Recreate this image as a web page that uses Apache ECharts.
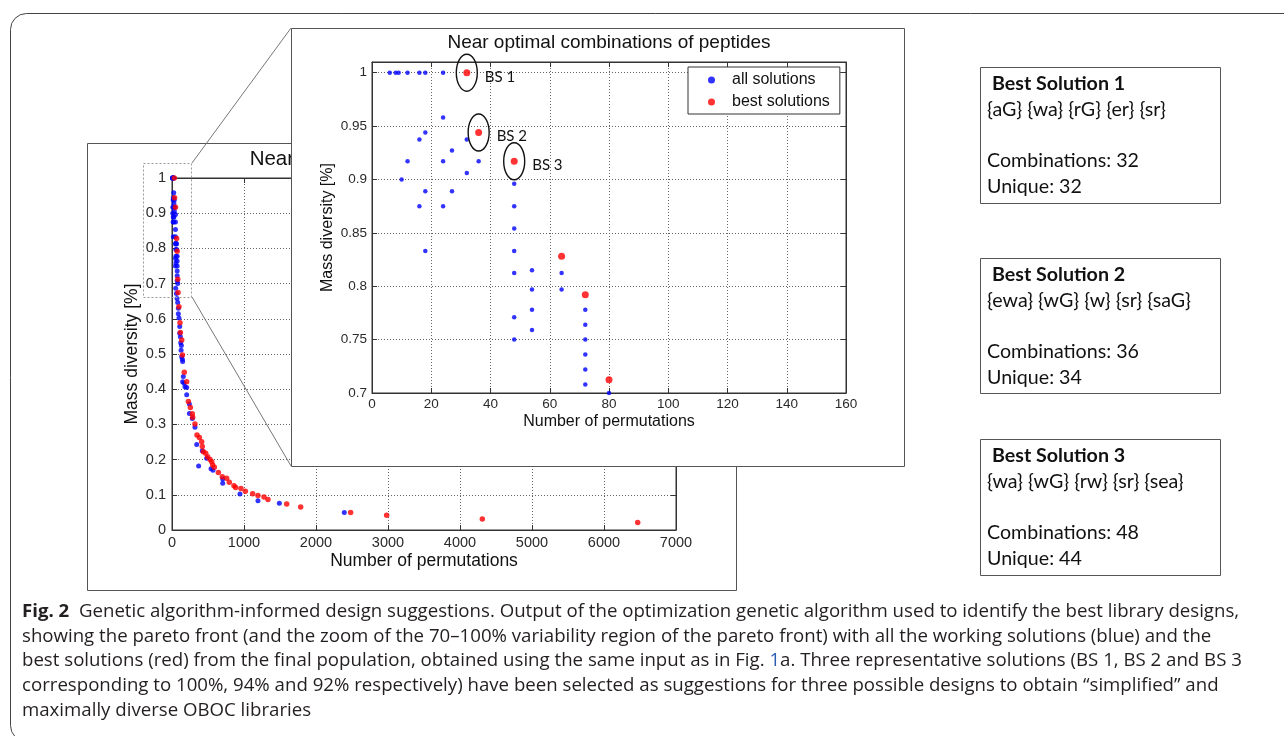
<!DOCTYPE html>
<html>
<head>
<meta charset="utf-8">
<title>Near optimal combinations of peptides</title>
<script src="https://cdn.jsdelivr.net/npm/echarts@6.0.0/dist/echarts.min.js"></script>
<style>
html,body{margin:0;padding:0;background:#fff;}
#chart{width:1284px;height:736px;}
</style>
</head>
<body>
<div id="chart"></div>
<script>
// ---------- data ----------
// [permutations, mass diversity]
const allSolutions = [
  [6,1],[8,1],[9,1],[12,1],[16,1],[18,1],[24,1],
  [24,0.958],[18,0.944],[16,0.9375],[32,0.9375],[27,0.927],
  [12,0.917],[24,0.917],[36,0.917],[32,0.906],[10,0.9],[48,0.896],
  [18,0.889],[27,0.889],[16,0.875],[24,0.875],[48,0.875],[48,0.854],
  [18,0.833],[48,0.833],[54,0.815],[48,0.8125],[64,0.8125],[54,0.797],
  [64,0.797],[54,0.778],[72,0.778],[48,0.771],[72,0.764],[54,0.759],
  [48,0.75],[72,0.75],[72,0.736],[72,0.722],[72,0.708],[80,0.70],
  [51,0.687],[61,0.672],[70,0.658],[79,0.646],[88,0.630],[88,0.614],
  [97,0.602],[107,0.578],[107,0.559],[116,0.549],[121,0.532],[130,0.524],
  [126,0.511],[134,0.492],[144,0.485],[148,0.479],[157,0.436],[148,0.421],
  [167,0.417],[181,0.407],[204,0.405],[204,0.384],[241,0.358],[241,0.331],
  [282,0.317],[319,0.292],[343,0.243],[370,0.182],[421,0.225],[482,0.204],
  [542,0.174],[569,0.170],[704,0.145],[704,0.133],[944,0.102],[1194,0.083],
  [1491,0.076],[2393,0.05]
];
const bestSolutions = [
  [32,1],[36,0.944],[48,0.917],[64,0.828],[72,0.792],[80,0.7125],
  [84,0.675],[97,0.634],[111,0.589],[116,0.561],[135,0.54],[145,0.497],
  [171,0.448],[204,0.421],[227,0.365],[255,0.348],[282,0.33],[287,0.32],
  [319,0.301],[347,0.27],[380,0.263],[412,0.251],[421,0.237],[435,0.222],
  [468,0.218],[495,0.208],[528,0.2],[551,0.194],[565,0.185],[588,0.178],
  [644,0.163],[699,0.151],[759,0.147],[796,0.136],[861,0.126],[884,0.121],
  [958,0.118],[1019,0.11],[1120,0.103],[1194,0.098],[1278,0.094],[1333,0.087],
  [1593,0.074],[1787,0.065],[2481,0.05],[2981,0.042],[4310,0.031],[6468,0.021]
];
const bsPoints = [[32,1],[36,0.944],[48,0.917]];
const bsLabels = ['BS 1', 'BS 2', 'BS 3'];

// axis ranges: [min, max, interval]
const mainXRange = [0, 7000, 1000];
const mainYRange = [0, 1, 0.1];
const insetXRange = [0, 160, 20];
const insetYRange = [0.7, 1.01, 0.05];

const chartTitle = 'Near optimal combinations of peptides';
const xName = 'Number of permutations';
const yName = 'Mass diversity [%]';
const seriesNames = ['all solutions', 'best solutions'];

const boxTitles = ['Best Solution 1', 'Best Solution 2', 'Best Solution 3'];
const boxSets = ['{aG} {wa} {rG} {er} {sr}', '{ewa} {wG} {w} {sr} {saG}', '{wa} {wG} {rw} {sr} {sea}'];
const boxCombinations = [32, 36, 48];
const boxUnique = [32, 34, 44];

const figLabel = 'Fig. 2';
const captionLines = [
  'Genetic algorithm-informed design suggestions. Output of the optimization genetic algorithm used to identify the best library designs,',
  'showing the pareto front (and the zoom of the 70\u2013100% variability region of the pareto front) with all the working solutions (blue) and the',
  'best solutions (red) from the final population, obtained using the same input as in Fig. {ref|1}a. Three representative solutions (BS 1, BS 2 and BS 3',
  'corresponding to 100%, 94% and 92% respectively) have been selected as suggestions for three possible designs to obtain \u201csimplified\u201d and',
  'maximally diverse OBOC libraries'
];

// ---------- styling helpers ----------
const PLOT_FONT = '"Liberation Sans", Arial, sans-serif';
const CAP_FONT = '"Open Sans", sans-serif';
const BOX_FONT = 'Lato, "Open Sans", sans-serif';
const BLUE = '#0000ff', RED = '#ff0000';

const measureCtx = document.createElement('canvas').getContext('2d');
function measure(text, font) { measureCtx.font = font; return measureCtx.measureText(text).width; }

// caption size chosen so the first line spans the caption column
const capW = measure(figLabel, 'bold 16px ' + CAP_FONT) + measure('  ' + captionLines[0], '16px ' + CAP_FONT);
const capSize = +(16 * 1218 / capW).toFixed(2);
// solution box text size chosen from the "Combinations" line width
const boxSize = +(18 * 152 / measure('Combinations: 32', '18px ' + BOX_FONT)).toFixed(2);

function numLabel(step) {
  return function (v) {
    const k = v / step;
    if (Math.abs(k - Math.round(k)) > 1e-6) return '';
    return String(+v.toFixed(2));
  };
}

function valueAxis(opt) {
  const r = opt.range;
  const base = {
    type: 'value', gridIndex: opt.grid, min: r[0], max: r[1], interval: r[2],
    position: opt.position, z: opt.z,
    axisLine: { show: true, onZero: false, lineStyle: { color: '#333', width: 1 } },
    axisTick: { show: true, inside: true, length: 5, lineStyle: { color: '#333' } },
    axisLabel: {
      show: !!opt.labels, fontSize: opt.fontSize, margin: opt.margin,
      color: '#2a2a2a', fontFamily: PLOT_FONT, formatter: numLabel(r[2])
    },
    splitLine: {
      show: !!opt.split,
      lineStyle: { color: '#666', width: 1, type: [1, 2] }
    }
  };
  if (opt.name) {
    base.name = opt.name;
    base.nameLocation = 'middle';
    base.nameGap = opt.nameGap;
    base.nameTextStyle = { fontSize: opt.nameSize, fontFamily: PLOT_FONT, color: '#111' };
  }
  return base;
}

const xAxes = [
  valueAxis({ grid: 0, range: mainXRange, position: 'bottom', z: 1, labels: true, split: true, fontSize: 14.5, margin: 5, name: xName, nameGap: 22, nameSize: 17.5 }),
  valueAxis({ grid: 0, range: mainXRange, position: 'top', z: 1 }),
  valueAxis({ grid: 1, range: insetXRange, position: 'bottom', z: 6, labels: true, split: true, fontSize: 13.5, margin: 4, name: xName, nameGap: 21, nameSize: 16 }),
  valueAxis({ grid: 1, range: insetXRange, position: 'top', z: 6 })
];
const yAxes = [
  valueAxis({ grid: 0, range: mainYRange, position: 'left', z: 1, labels: true, split: true, fontSize: 14.5, margin: 6, name: yName, nameGap: 31, nameSize: 17.5 }),
  valueAxis({ grid: 0, range: mainYRange, position: 'right', z: 1 }),
  valueAxis({ grid: 1, range: insetYRange, position: 'left', z: 6, labels: true, split: true, fontSize: 13.5, margin: 5, name: yName, nameGap: 36, nameSize: 16 }),
  valueAxis({ grid: 1, range: insetYRange, position: 'right', z: 6 })
];

// ---------- decorative layout ----------
const graphics = [];
// page frame
graphics.push({ type: 'rect', z: 0, shape: { x: 10.5, y: 13.5, width: 1300, height: 728, r: 16 },
  style: { fill: 'none', stroke: '#444', lineWidth: 1 } });
// main figure panel
graphics.push({ type: 'rect', z: 0, shape: { x: 87.5, y: 143.5, width: 649, height: 447 },
  style: { fill: '#fff', stroke: '#555', lineWidth: 1 } });
graphics.push({ type: 'text', z: 1, x: 424, y: 159,
  style: { text: chartTitle, fontSize: 20.5, fontFamily: PLOT_FONT, fill: '#111', align: 'center', verticalAlign: 'middle' } });
// zoom window and connectors
graphics.push({ type: 'rect', z: 3, shape: { x: 143.5, y: 163.5, width: 48, height: 134 },
  style: { fill: 'none', stroke: '#999', lineWidth: 1, lineDash: [2, 2] } });
graphics.push({ type: 'line', z: 3, shape: { x1: 192, y1: 163, x2: 291, y2: 28 }, style: { stroke: '#777', lineWidth: 1 } });
graphics.push({ type: 'line', z: 3, shape: { x1: 192, y1: 297, x2: 291, y2: 466 }, style: { stroke: '#777', lineWidth: 1 } });
// inset panel
graphics.push({ type: 'rect', z: 5, shape: { x: 291.5, y: 28.5, width: 613, height: 438 },
  style: { fill: '#fff', stroke: '#555', lineWidth: 1 } });
graphics.push({ type: 'text', z: 6, x: 609, y: 43,
  style: { text: chartTitle, fontSize: 19, fontFamily: PLOT_FONT, fill: '#111', align: 'center', verticalAlign: 'middle' } });

// solution boxes
const boxTops = [67, 258, 439];
const boxHeights = [136, 135, 136];
boxTitles.forEach(function (t, i) {
  const top = boxTops[i];
  graphics.push({ type: 'rect', z: 0, shape: { x: 980.5, y: top + 0.5, width: 240, height: boxHeights[i] },
    style: { fill: '#fff', stroke: '#555', lineWidth: 1 } });
  const lines = [
    { text: t, x: 992, dy: 17, bold: true },
    { text: boxSets[i], x: 987, dy: 43 },
    { text: 'Combinations: ' + boxCombinations[i], x: 987, dy: 94 },
    { text: 'Unique: ' + boxUnique[i], x: 987, dy: 120 }
  ];
  lines.forEach(function (l) {
    graphics.push({ type: 'text', z: 1, x: l.x, y: top + l.dy,
      style: { text: l.text, fontSize: boxSize, fontFamily: BOX_FONT, fontWeight: l.bold ? 'bold' : 'normal',
        fill: '#111', align: 'left', verticalAlign: 'middle' } });
  });
});

// caption
const capTops = [612, 637, 661, 686, 711];
captionLines.forEach(function (line, i) {
  const text = i === 0 ? '{b|' + figLabel + '}  ' + line : line;
  graphics.push({ type: 'text', z: 1, x: 22, y: capTops[i],
    style: {
      text: text, fontSize: capSize, fontFamily: CAP_FONT, fill: '#231f20', align: 'left', verticalAlign: 'middle',
      rich: {
        b: { fontSize: capSize, fontFamily: CAP_FONT, fontWeight: 'bold', fill: '#231f20' },
        ref: { fontSize: capSize, fontFamily: CAP_FONT, fill: '#2a5db0' }
      }
    } });
});

// ---------- chart ----------
const chart = echarts.init(document.getElementById('chart'), null, { renderer: 'canvas' });
chart.setOption({
  animation: false,
  backgroundColor: '#fff',
  textStyle: { fontFamily: PLOT_FONT },
  grid: [
    { left: 172, top: 178, width: 504, height: 352, show: true, z: 1, borderColor: '#333', borderWidth: 1,
      backgroundColor: 'transparent', containLabel: false, outerBoundsMode: 'none' },
    { left: 372, top: 62, width: 474, height: 331, show: true, z: 6, borderColor: '#333', borderWidth: 1,
      backgroundColor: 'transparent', containLabel: false, outerBoundsMode: 'none' }
  ],
  xAxis: xAxes,
  yAxis: yAxes,
  legend: {
    data: seriesNames, orient: 'vertical', left: 688, top: 67, z: 9,
    padding: [5, 10, 4, 20], itemGap: 6, itemWidth: 7, itemHeight: 7,
    backgroundColor: '#fff', borderColor: '#333', borderWidth: 1,
    selectedMode: false,
    textStyle: { fontSize: 16, fontFamily: PLOT_FONT, color: '#111', padding: [0, 0, 0, 12] }
  },
  graphic: { elements: graphics },
  series: [
    { name: seriesNames[0], type: 'scatter', xAxisIndex: 0, yAxisIndex: 0, z: 2, silent: true,
      symbol: 'circle', symbolSize: 5, itemStyle: { color: BLUE }, data: allSolutions },
    { name: seriesNames[1], type: 'scatter', xAxisIndex: 0, yAxisIndex: 0, z: 3, silent: true,
      symbol: 'circle', symbolSize: 5.5, itemStyle: { color: RED }, data: bestSolutions },
    { name: seriesNames[0], type: 'scatter', xAxisIndex: 2, yAxisIndex: 2, z: 7, silent: true,
      symbol: 'circle', symbolSize: 4.5, itemStyle: { color: BLUE }, data: allSolutions },
    { name: seriesNames[1], type: 'scatter', xAxisIndex: 2, yAxisIndex: 2, z: 7, silent: true,
      symbol: 'circle', symbolSize: 7, itemStyle: { color: RED }, data: bestSolutions },
    { type: 'custom', xAxisIndex: 2, yAxisIndex: 2, z: 8, silent: true, clip: false,
      data: bsPoints.map(function (p, i) { return [p[0], p[1], i]; }),
      renderItem: function (params, api) {
        const c = api.coord([api.value(0), api.value(1)]);
        const i = api.value(2);
        return {
          type: 'group',
          children: [
            { type: 'ellipse', shape: { cx: c[0], cy: c[1], rx: 10.5, ry: 18.5 },
              style: { fill: 'none', stroke: '#111', lineWidth: 1.4 } },
            { type: 'text', x: c[0] + 18, y: c[1] + 4,
              style: { text: bsLabels[i], fontSize: 15, fontFamily: BOX_FONT, fill: '#111', align: 'left', verticalAlign: 'middle' } }
          ]
        };
      }
    }
  ]
});
</script>
</body>
</html>
